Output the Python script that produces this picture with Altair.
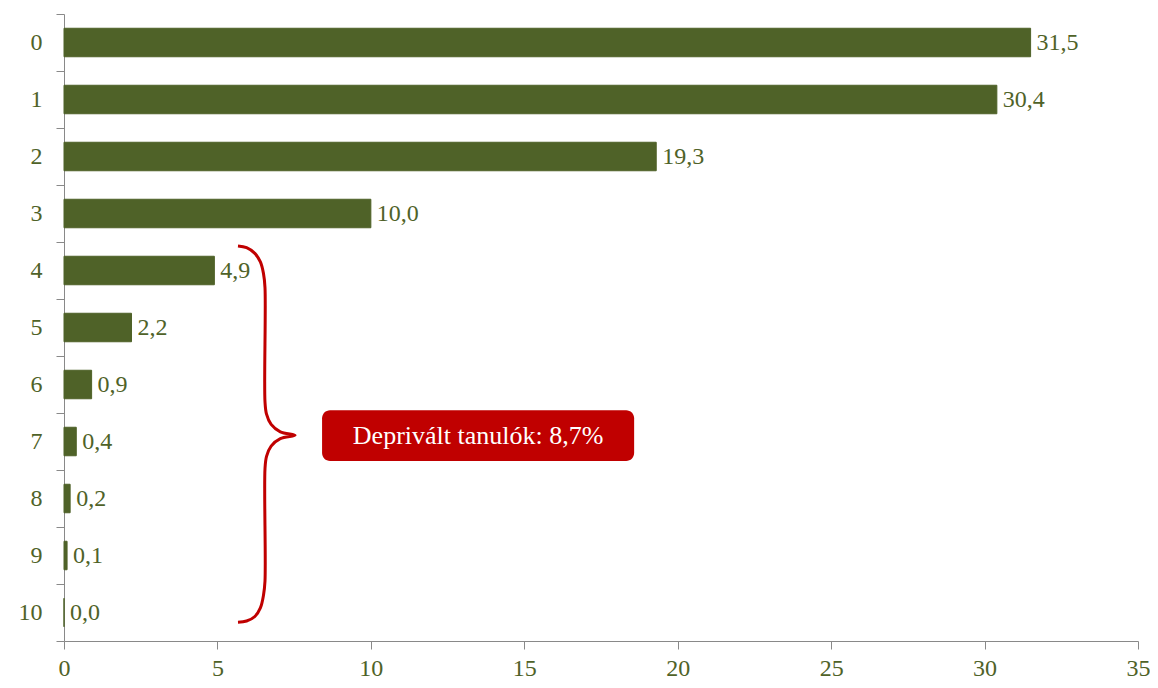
import altair as alt
import pandas as pd

categories = ["0", "1", "2", "3", "4", "5", "6", "7", "8", "9", "10"]
values = [31.5, 30.4, 19.3, 10.0, 4.9, 2.2, 0.9, 0.4, 0.2, 0.1, 0.0]
x_ticks = [0, 5, 10, 15, 20, 25, 30, 35]

annotation_text = "Deprivált tanulók: 8,7%"
# brace outline (x in data units, y in category units)
brace_x = [5.67, 5.95, 6.22, 6.40, 6.50, 6.55, 6.55, 6.60, 6.75, 7.05, 7.53,
           7.05, 6.75, 6.60, 6.55, 6.55, 6.50, 6.40, 6.22, 5.95, 5.67]
brace_y = [3.57, 3.60, 3.70, 3.85, 4.05, 4.30, 6.30, 6.52, 6.70, 6.83, 6.89,
           6.95, 7.08, 7.26, 7.48, 9.45, 9.70, 9.92, 10.07, 10.15, 10.17]
box_x = [8.41, 18.58]
box_y = [6.45, 7.34]

GREEN = "#4F6228"
RED = "#C00000"
FONT = "Liberation Serif"

df = pd.DataFrame({
    "cat": categories,
    "val": values,
    "label": [f"{v:.1f}".replace(".", ",") for v in values],
})
brace_df = pd.DataFrame({"i": list(range(len(brace_x))), "bx": brace_x, "by": brace_y})
box_df = pd.DataFrame({"x1": [box_x[0]], "x2": [box_x[1]], "y1": [box_y[0]], "y2": [box_y[1]],
                       "xm": [(box_x[0] + box_x[1]) / 2], "ym": [(box_y[0] + box_y[1]) / 2],
                       "t": [annotation_text]})

xscale = alt.Scale(domain=[0, 35], nice=False)
yband = alt.Scale(paddingInner=0, paddingOuter=0)
yq = alt.Scale(domain=[-0.5, 10.5], reverse=True, nice=False, zero=False)

base = alt.Chart(df)
bars = base.mark_bar(color=GREEN, height={"band": 0.5}, stroke=GREEN, strokeWidth=1).encode(
    x=alt.X("val:Q", scale=xscale, title=None,
            axis=alt.Axis(values=x_ticks, grid=False, domainColor="#898989", tickColor="#898989",
                          tickSize=8, labelPadding=7, labelFont=FONT, labelFontSize=24,
                          labelColor=GREEN, labelFlush=False)),
    y=alt.Y("cat:N", sort=categories, scale=yband, title=None,
            axis=alt.Axis(tickBand="extent", domainColor="#898989", tickColor="#898989",
                          tickSize=8, labelPadding=14, labelFont=FONT, labelFontSize=24,
                          labelColor=GREEN)),
)
labels = base.mark_text(align="left", baseline="middle", dx=6, font=FONT, fontSize=24,
                        color=GREEN).encode(
    x=alt.X("val:Q", scale=xscale),
    y=alt.Y("cat:N", sort=categories, scale=yband, axis=None),
    text="label:N",
)

brace = alt.Chart(brace_df).mark_line(color=RED, strokeWidth=3, interpolate="catmull-rom").encode(
    x=alt.X("bx:Q", scale=xscale),
    y=alt.Y("by:Q", scale=yq, axis=None),
    order="i:Q",
)
box = alt.Chart(box_df).mark_rect(color=RED, cornerRadius=8).encode(
    x=alt.X("x1:Q", scale=xscale), x2="x2:Q",
    y=alt.Y("y1:Q", scale=yq, axis=None), y2="y2:Q",
)
box_text = alt.Chart(box_df).mark_text(color="white", font=FONT, fontSize=26,
                                       align="center", baseline="middle").encode(
    x=alt.X("xm:Q", scale=xscale),
    y=alt.Y("ym:Q", scale=yq, axis=None),
    text="t:N",
)

chart = alt.layer(bars, labels, brace, box, box_text).resolve_scale(y="independent").properties(
    width=1074, height=627,
    autosize=alt.AutoSizeParams(type="none"),
    padding={"left": 56, "top": 6, "right": 12, "bottom": 39},
).configure(background="white").configure_view(stroke=None)

chart.save("out.html", embed_options={"renderer": "svg", "actions": False})
